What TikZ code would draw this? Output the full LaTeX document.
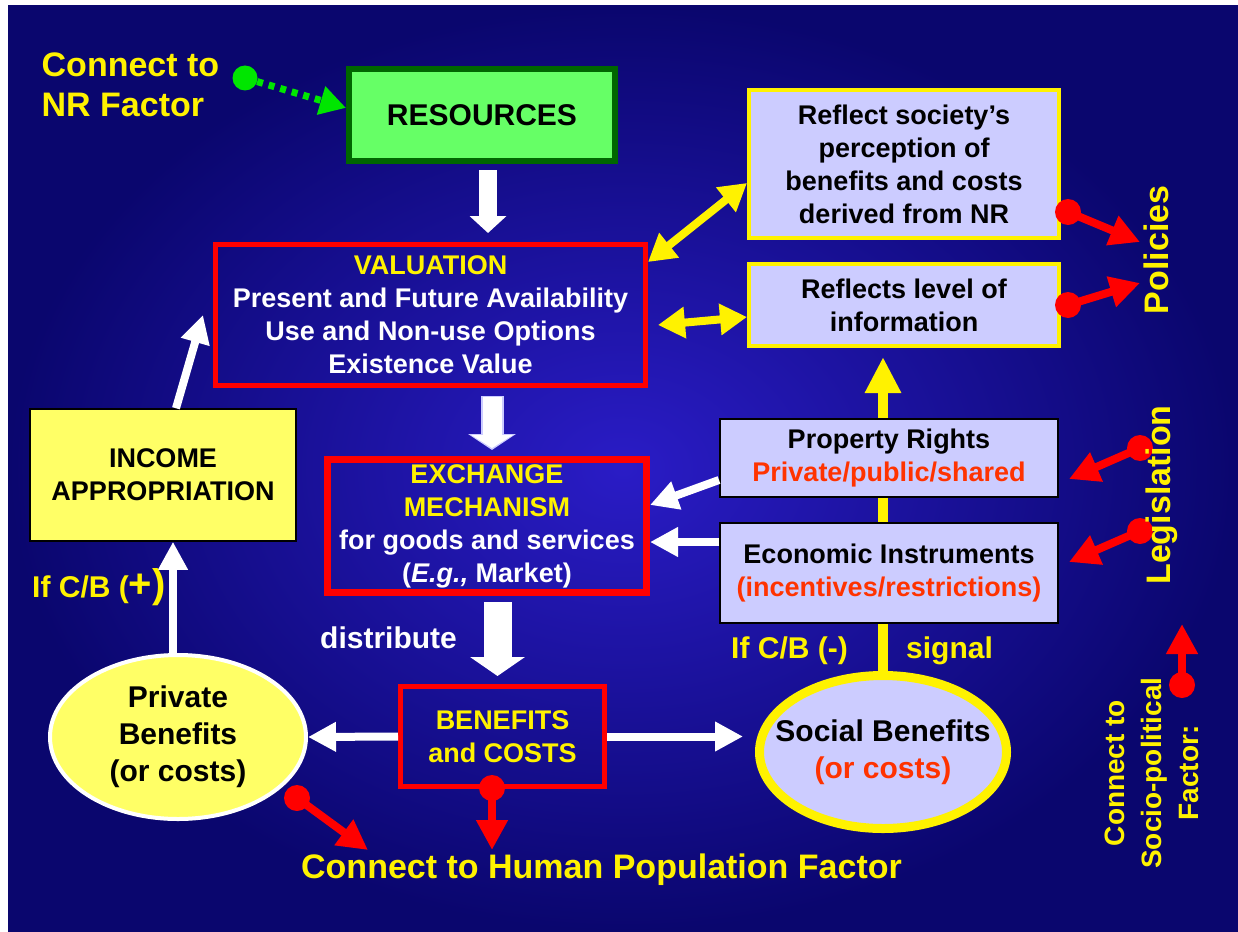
\documentclass[tikz,border=0pt]{standalone}
\usepackage{fontspec}
\setmainfont{Liberation Sans}
\usetikzlibrary{arrows.meta,shapes.geometric}

\definecolor{bgin}{RGB}{42,28,198}
\definecolor{bgout}{RGB}{10,6,110}
\definecolor{lav}{RGB}{204,204,255}
\definecolor{paleyel}{RGB}{255,255,102}
\definecolor{resfill}{RGB}{102,255,102}
\definecolor{resline}{RGB}{0,102,0}
\definecolor{dotgreen}{RGB}{0,230,0}
\definecolor{orred}{RGB}{255,51,0}

\newcommand{\boxfont}{\fontsize{27}{33}\selectfont\bfseries}
\newcommand{\midfont}{\fontsize{30}{37}\selectfont\bfseries}
\newcommand{\bigfont}{\fontsize{34}{40}\selectfont\bfseries}

\tikzset{
  txtbox/.style={rectangle, inner sep=0pt, align=center, font=\boxfont},
  redbox/.style={txtbox, draw=red, line width=5pt, text=white},
  lavbox/.style={txtbox, fill=lav},
  lab/.style={inner sep=0pt, text=yellow},
  whitearr/.style={draw=white, line width=8pt, -{Triangle[length=28pt,width=28pt]}},
  yelarr/.style={draw=yellow, line width=8pt, {Triangle[length=27pt,width=30pt]}-{Triangle[length=27pt,width=30pt]}},
  redarr/.style={draw=red, line width=8pt, -{Triangle[length=30pt,width=30pt]}},
  reddot/.style={circle, fill=red, inner sep=0pt, minimum size=26pt}
}

\begin{document}
\begin{tikzpicture}[x=1pt, y=-1pt]
\useasboundingbox (0,0) rectangle (1238,931);
% background
\fill[white] (0,0) rectangle (1238,931);
\shade[inner color=bgin, outer color=bgout] (8,6) rectangle (1238,931);

% NR factor
\node[lab, anchor=west, align=left, font=\bigfont] (nrlab) at (41.5,84.5) {Connect to\\NR Factor};
\node[circle, fill=dotgreen, inner sep=0pt, minimum size=25pt] (gdot) at (245,78) {};
\node[txtbox, draw=resline, line width=6pt, fill=resfill, minimum width=266pt, minimum height=92pt,
      font=\fontsize{30}{36}\selectfont\bfseries] (res) at (482,115) {RESOURCES};
\draw[draw=dotgreen, line width=7pt, dash pattern=on 6pt off 6pt, -{Triangle[length=26pt,width=28pt]}] (gdot) -- (res.177);

% boxes
\node[redbox, minimum width=430pt, minimum height=141pt] (val) at (430.5,315)
  {\textcolor{yellow}{VALUATION}\\Present and Future Availability\\Use and Non-use Options\\Existence Value};
\node[lavbox, draw=yellow, line width=4pt, minimum width=310pt, minimum height=148pt] (refl) at (904,164)
  {Reflect society's\\perception of\\benefits and costs\\derived from NR};
\node[lavbox, draw=yellow, line width=4pt, minimum width=310pt, minimum height=82pt] (info) at (904,305)
  {Reflects level of\\information};
\node[txtbox, draw=black, line width=1.5pt, fill=paleyel, minimum width=266pt, minimum height=132pt] (inc) at (163,475)
  {INCOME\\APPROPRIATION};
\node[redbox, line width=7pt, minimum width=319pt, minimum height=133pt] (exch) at (487,526)
  {\textcolor{yellow}{EXCHANGE}\\\textcolor{yellow}{MECHANISM}\\for goods and services\\(\textit{E.g.,} Market)};
\node[redbox, text=yellow, minimum width=204pt, minimum height=100pt] (ben) at (502.5,736.5) {BENEFITS\\and COSTS};
\node[ellipse, draw=white, line width=4pt, fill=paleyel, minimum width=256pt, minimum height=164pt,
      inner sep=0pt, align=center, font=\midfont] (priv) at (178,737) {Private\\Benefits\\(or costs)};
\node[ellipse, draw=yellow, line width=9pt, fill=lav, minimum width=247pt, minimum height=153pt,
      inner sep=0pt, inner xsep=-40pt, align=center, font=\midfont] (soc) at (883,752)
  {Social Benefits\\\textcolor{orred}{(or costs)}};

% signal line, under the boxes
\draw[draw=yellow, line width=10pt, -{Triangle[length=36pt,width=34pt]}, shorten >=9pt] (soc.north) -- (soc.north |- info.south);

\node[lavbox, draw=black, line width=2pt, minimum width=338pt, minimum height=78pt] (prop) at (889,458)
  {Property Rights\\\textcolor{orred}{Private/public/shared}};
\node[lavbox, draw=black, line width=2pt, minimum width=338pt, minimum height=100pt] (econ) at (889,573)
  {Economic Instruments\\\textcolor{orred}{(incentives/restrictions)}};

% block arrows
\draw[white, line width=18pt, -{Triangle[length=17pt,width=36pt]}, shorten <=6pt, shorten >=9pt]
  ([xshift=6pt]res.south) -- ([xshift=6pt]res.south |- val.north);
\draw[lav, line width=23pt, -{Triangle[length=16pt,width=47pt]}, shorten <=8pt, shorten >=6pt]
  ([xshift=5pt]exch.north |- val.south) -- ([xshift=5pt]exch.north);
\draw[white, line width=19pt, -{Triangle[length=13pt,width=41pt]}, shorten <=9pt, shorten >=8pt]
  ([xshift=5pt]exch.north |- val.south) -- ([xshift=5pt]exch.north);
\draw[white, line width=28pt, -{Triangle[length=19pt,width=54pt]}, shorten <=6pt, shorten >=8pt]
  ([xshift=-5pt]ben.north |- exch.south) -- ([xshift=-5pt]ben.north);

% white arrows
\draw[whitearr] (ben.west) -- (priv.east);
\draw[whitearr, shorten >=12pt] (ben.east) -- (ben.east -| soc.west);
\draw[whitearr] ([xshift=-5pt]priv.north) -- ([xshift=-5pt]priv.north |- inc.south);
\draw[whitearr] ([xshift=13pt]inc.north) -- ([xshift=-10pt]val.west);
\draw[whitearr] ([yshift=-22pt]prop.west) -- ([yshift=21pt]exch.east);
\draw[whitearr] ([yshift=31pt]econ.west) -- ([yshift=-16pt]exch.east);

% yellow arrows
\draw[yelarr] ([yshift=-20pt]val.north east) -- ([yshift=-19pt]refl.west);
\draw[yelarr] ([xshift=10pt,yshift=-10pt]val.east) -- ([yshift=-12pt]info.west);

% red arrows
\foreach \n/\ax/\ay/\bx/\by in {1/1068/212/1140/242, 2/1068/305/1140/283, 3/1140/448/1069/479,
    4/1140/531/1069/562, 5/1182/685/1182/624, 6/297/798/368/850, 7/492/788/492/850} {
\node[reddot] (rd\n) at (\ax,\ay) {};
\coordinate (rt\n) at (\bx,\by);
\draw[redarr] (rd\n.center) -- (rt\n);
}

% labels
\node[lab, rotate=90, font=\bigfont] (pol) at (1156,250) {Policies};
\node[lab, rotate=90, font=\bigfont] (leg) at (1162,495) {Legislation};
\node[lab, rotate=90, align=center, font=\fontsize{28}{37}\selectfont\bfseries] (socio) at (1151.5,773)
  {Connect to\\Socio-political\\Factor:};
\node[lab, anchor=base, font=\bigfont] (hplab) at (601.5,878) {Connect to Human Population Factor};
\node[lab, anchor=base west, font=\midfont] (cbneg) at (731,658) {If C/B (-)};
\node[lab, anchor=base west, font=\midfont] (sig) at (906,658) {signal};
\node[lab, anchor=base west, font=\midfont, text=white] (dist) at (320,648) {distribute};
\node[lab, anchor=base west, font=\midfont] (cbpos) at (32,597) {If C/B ({\fontsize{40}{40}\selectfont+)}};

\end{tikzpicture}
\end{document}
